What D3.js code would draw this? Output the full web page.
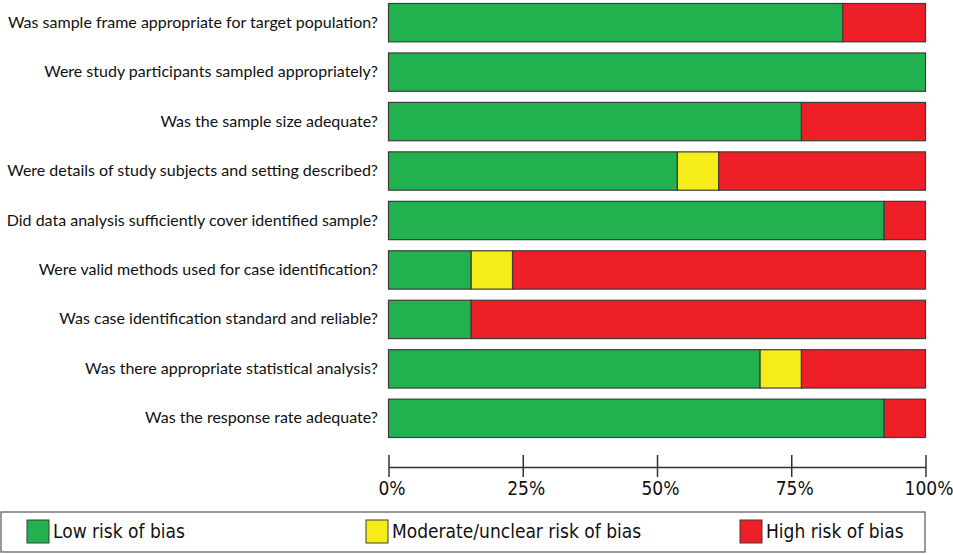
<!DOCTYPE html>
<html><head><meta charset="utf-8">
<script src="https://cdn.jsdelivr.net/npm/d3@7"></script>
<style>body{margin:0;background:#fff}svg{display:block}</style>
</head><body>
<svg id="c" width="953" height="555"></svg>
<script>
const questions = [
  "Was sample frame appropriate for target population?",
  "Were study participants sampled appropriately?",
  "Was the sample size adequate?",
  "Were details of study subjects and setting described?",
  "Did data analysis sufficiently cover identified sample?",
  "Were valid methods used for case identification?",
  "Was case identification standard and reliable?",
  "Was there appropriate statistical analysis?",
  "Was the response rate adequate?"
];
const lowRisk      = [84.6, 100, 76.9, 53.8, 92.3, 15.4, 15.4, 69.2, 92.3];
const moderateRisk = [0,    0,   0,    7.7,  0,    7.7,  0,    7.7,  0];
const highRisk     = [15.4, 0,   23.1, 38.5, 7.7,  76.9, 84.6, 23.1, 7.7];
const seriesNames = ["Low risk of bias", "Moderate/unclear risk of bias", "High risk of bias"];
const seriesColors = ["#22b14f", "#f5ec1a", "#ee1f26"];
const tickValues = [0, 25, 50, 75, 100];
const tickLabels = ["0%", "25%", "50%", "75%", "100%"];

const svg = d3.select("#c");
const x = d3.scaleLinear().domain([0, 100]).range([388.5, 925.5]);
const y = d3.scaleBand().domain(questions).range([3, 437]).paddingInner(0.225).paddingOuter(0);

const rows = questions.map((q, i) => ({q, vals: [lowRisk[i], moderateRisk[i], highRisk[i]]}));
const stack = d3.stack().keys([0,1,2]).value((d, k) => d.vals[k])(rows);

stack.forEach((layer, k) => {
  svg.append("g").selectAll("rect").data(layer.filter(d => d[1] - d[0] > 0)).join("rect")
    .attr("x", d => x(d[0]))
    .attr("y", d => y(d.data.q) + 0.5)
    .attr("width", d => x(d[1]) - x(d[0]))
    .attr("height", y.bandwidth())
    .attr("fill", seriesColors[k])
    .attr("stroke", "#3c3c3c")
    .attr("stroke-width", 1.2);
});

const labels = svg.append("g").selectAll("text").data(questions).join("text")
  .attr("x", 378).attr("y", d => y(d) + y.bandwidth()/2 + 5.5)
  .attr("text-anchor", "end")
  .style("font-family", "Lato, 'Open Sans', sans-serif").style("font-size", "17px")
  .attr("fill", "#111").text(d => d);
// fit the longest label to the reference width
const w0 = labels.nodes()[0].getComputedTextLength();
const fs = 17 * 370 / w0;
labels.style("font-size", fs.toFixed(2) + "px");

// axis
const axisY = 467;
const ax = svg.append("g").attr("transform", `translate(0,${axisY})`)
  .call(d3.axisBottom(x).tickValues(tickValues).tickFormat((d, i) => tickLabels[i]).tickSize(0).tickPadding(15));
ax.select(".domain").attr("stroke", "#333").attr("stroke-width", 1.5);
ax.selectAll(".tick line").attr("y1", -12).attr("y2", 10).attr("stroke", "#333").attr("stroke-width", 1.5);
ax.selectAll(".tick text").attr("dx", 3).style("font-family", "'DejaVu Sans Condensed', 'DejaVu Sans', sans-serif")
  .style("font-stretch", "condensed").style("font-size", "19px").attr("fill", "#111");

// legend
const lg = svg.append("g");
lg.append("rect").attr("x", 1).attr("y", 512).attr("width", 924).attr("height", 40)
  .attr("fill", "#fff").attr("stroke", "#555").attr("stroke-width", 1.2);
const legX = [27, 366, 740];
seriesNames.forEach((n, k) => {
  lg.append("rect").attr("x", legX[k]).attr("y", 520).attr("width", 22).attr("height", 23)
    .attr("fill", seriesColors[k]).attr("stroke", "#3c3c3c").attr("stroke-width", 1);
  lg.append("text").attr("x", legX[k] + 26).attr("y", 538)
    .style("font-family", "'DejaVu Sans Condensed', 'DejaVu Sans', sans-serif")
    .style("font-stretch", "condensed").style("font-size", "19px").attr("fill", "#111").text(n);
});
</script>
</body></html>
